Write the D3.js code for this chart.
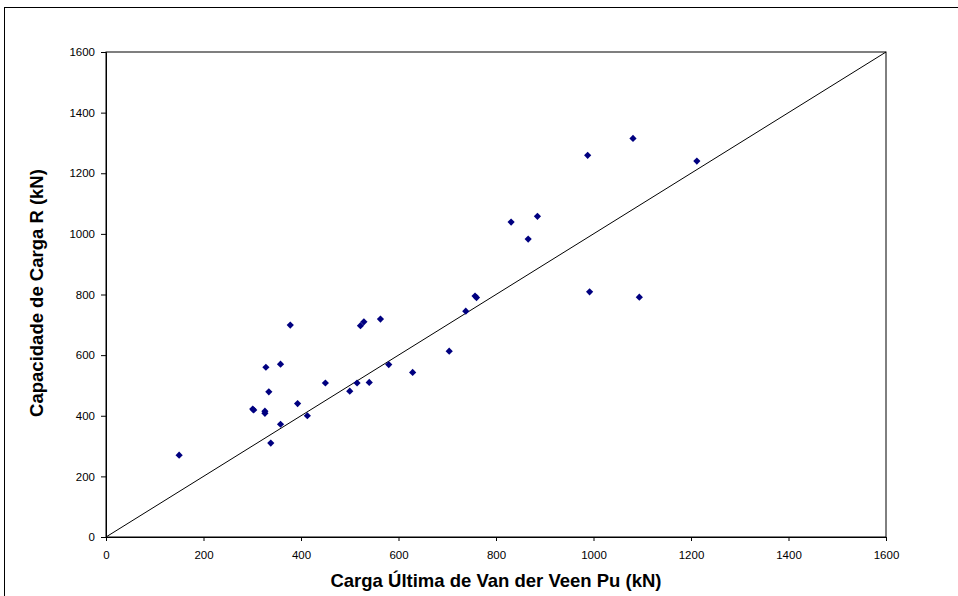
<!doctype html>
<meta charset="utf-8">
<script src="https://d3js.org/d3.v7.min.js"></script>
<style>
  body {margin: 0; background: #fff;}
  text {font-family: "Liberation Sans", Arial, sans-serif;}
</style>
<body>
<svg width="958" height="596"></svg>
<script>
// values (kN)
var vanDerVeen = [150, 301, 303, 326, 326, 328, 334, 338, 358, 358, 378, 393, 413, 450,
                  500, 515, 522, 529, 540, 563, 580, 629, 704, 738, 757, 760, 992, 1094,
                  831, 885, 866, 988, 1081, 1212];
var capacidade = [270, 422, 419, 415, 408, 560, 479, 310, 570, 372, 699, 440, 400, 508,
                  481, 508, 697, 710, 510, 719, 569, 543, 613, 745, 795, 790, 809, 791,
                  1039, 1058, 983, 1259, 1315, 1240];
var ticks = [0, 200, 400, 600, 800, 1000, 1200, 1400, 1600];
var diagonal = [0, 1600];

var svg = d3.select("svg");

// outer chart frame
svg.append("rect")
    .attr("x", 4.5).attr("y", 7.5).attr("width", 960).attr("height", 620)
    .attr("fill", "none").attr("stroke", "#000");

var x = d3.scaleLinear().domain([0, 1600]).range([106, 886]);
var y = d3.scaleLinear().domain([0, 1600]).range([537, 52]);

// plot frame
svg.append("rect")
    .attr("x", 106).attr("y", 52).attr("width", 780).attr("height", 485)
    .attr("fill", "none").attr("stroke", "#000").attr("stroke-width", 1);

// axes
svg.append("g")
    .attr("transform", "translate(0,537)")
    .call(d3.axisBottom(x).tickValues(ticks).tickFormat(d3.format("d")).tickSize(4).tickPadding(10))
    .call(function(g) {
        g.select(".domain").attr("stroke", "#000");
        g.selectAll("text").attr("font-size", 11.5).attr("font-family", "Liberation Sans, Arial").attr("fill", "#000");
    });

svg.append("g")
    .attr("transform", "translate(106,0)")
    .call(d3.axisLeft(y).tickValues(ticks).tickFormat(d3.format("d")).tickSize(5).tickPadding(6))
    .call(function(g) {
        g.select(".domain").attr("stroke", "#000");
        g.selectAll("text").attr("font-size", 11.5).attr("font-family", "Liberation Sans, Arial").attr("fill", "#000");
    });

// 1:1 line
svg.append("line")
    .attr("x1", x(diagonal[0])).attr("y1", y(diagonal[0]))
    .attr("x2", x(diagonal[1])).attr("y2", y(diagonal[1]))
    .attr("stroke", "#000").attr("stroke-width", 1);

// points
var diamond = d3.symbol().type(d3.symbolSquare).size(26);
svg.append("g")
    .selectAll("path")
    .data(vanDerVeen)
    .enter()
    .append("path")
        .attr("d", diamond)
        .attr("transform", function(d, i) {
            return "translate(" + x(d) + "," + y(capacidade[i]) + ") rotate(45)";
        })
        .attr("fill", "#000080");

// axis titles
svg.append("text")
    .attr("x", 496).attr("y", 587)
    .attr("text-anchor", "middle")
    .attr("font-size", 18.5).attr("font-weight", "bold")
    .text("Carga Última de Van der Veen Pu (kN)");

svg.append("text")
    .attr("transform", "translate(43,293) rotate(-90)")
    .attr("text-anchor", "middle")
    .attr("font-size", 18.5).attr("font-weight", "bold")
    .text("Capacidade de Carga R (kN)");
</script>
</body>
